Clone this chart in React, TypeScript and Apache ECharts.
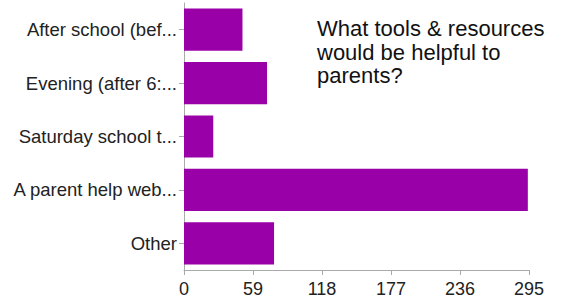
import React, { useEffect, useRef } from "react";
import * as echarts from "echarts";

const categories = [
  "After school (bef...",
  "Evening (after 6:...",
  "Saturday school t...",
  "A parent help web...",
  "Other",
];
const values = [50, 71, 25, 294, 77];
const titleText = "What tools & resources\nwould be helpful to\nparents?";
const axisMax = 295;
const axisStep = 59;

export default function App() {
  const ref = useRef<HTMLDivElement>(null);
  useEffect(() => {
    if (!ref.current) return;
    const chart = echarts.init(ref.current, undefined, { renderer: "svg" });
    chart.setOption({
      animation: false,
      backgroundColor: "#ffffff",
      title: {
        text: titleText,
        left: 317,
        top: 17,
        padding: 0,
        textStyle: {
          fontFamily: "Liberation Sans, Arial, sans-serif",
          fontSize: 22,
          fontWeight: "normal",
          color: "#111111",
          lineHeight: 23.5,
        },
      },
      grid: { left: 184, right: 47, top: 3, bottom: 26, containLabel: false },
      xAxis: {
        type: "value",
        min: 0,
        max: axisMax,
        interval: axisStep,
        axisLine: { show: true, lineStyle: { color: "#aaaaaa", width: 1 } },
        axisTick: { show: true, length: 5, lineStyle: { color: "#aaaaaa" } },
        splitLine: { show: false },
        axisLabel: {
          margin: 10,
          fontFamily: "Liberation Sans, Arial, sans-serif",
          fontSize: 18,
          color: "#222222",
        },
      },
      yAxis: {
        type: "category",
        data: categories,
        inverse: true,
        axisLine: { show: true, lineStyle: { color: "#aaaaaa", width: 1 } },
        axisTick: { show: true, alignWithLabel: true, length: 5, lineStyle: { color: "#aaaaaa" } },
        axisLabel: {
          margin: 7,
          fontFamily: "Liberation Sans, Arial, sans-serif",
          fontSize: 18.5,
          color: "#222222",
        },
      },
      series: [
        {
          type: "bar",
          data: values,
          barCategoryGap: "21%",
          itemStyle: { color: "#9a00a8" },
        },
      ],
    });
    return () => chart.dispose();
  }, []);
  return <div ref={ref} style={{ width: 576, height: 298, position: "absolute", left: 0, top: 0 }} />;
}
